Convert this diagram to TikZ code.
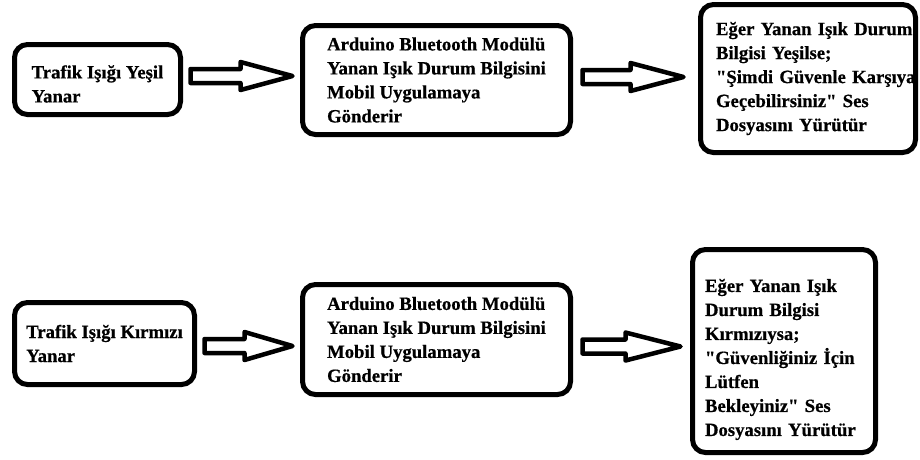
\documentclass[tikz,border=0pt]{standalone}
\usepackage{fontspec}
\setmainfont[Ligatures=TeXOff, BoldFeatures={FakeBold=0.6}]{Liberation Serif}
\usetikzlibrary{calc}
\tikzset{
  flowbox/.style={draw=black, line width=5pt, rounded corners=13pt, inner sep=0pt,
    align=left, font=\bfseries\fontsize{18.7}{24}\selectfont, text=black},
  barrow/.style={draw=black, fill=white, line width=4.5pt, line join=round}
}
\newcommand{\blockarr}[6]{%
  \path ($(#1.east)+(#3,#6)$) coordinate (s) ($(#2.west)+(-#4,0)$) coordinate (t0);
  \path (t0 |- s) coordinate (t);
  \draw[barrow] ($(s)+(0,-7)$) -- ($(t)+(-#5,-7)$) -- ($(t)+(-#5,-14)$) -- (t)
    -- ($(t)+(-#5,14)$) -- ($(t)+(-#5,7)$) -- ($(s)+(0,7)$) -- cycle;}
\begin{document}
\begin{tikzpicture}[x=1pt,y=-1pt]
\useasboundingbox[fill=white] (0,0) rectangle (920,459);
% top row
\node[flowbox, minimum width=166pt, minimum height=70pt] (a1) at (97.5,79.5)
  {\rule{0pt}{22pt}Trafik Işığı Yeşil\\Yanar};
\node[flowbox, minimum width=268pt, minimum height=109pt] (b1) at (436.5,80)
  {Arduino Bluetooth Modülü\\Yanan Işık Durum Bilgisini\\Mobil Uygulamaya\\Gönderir};
\node[flowbox, minimum width=215pt, minimum height=148pt, text width=184pt] (c1) at (808,78.5)
  {\mbox{Eğer Yanan Işık Durum}\\\mbox{Bilgisi Yeşilse;}\\\mbox{"Şimdi Güvenle Karşıya}\\\mbox{Geçebilirsiniz" Ses}\\\mbox{Dosyasını Yürütür}};
% bottom row
\node[flowbox, minimum width=180pt, minimum height=82pt] (a2) at (104.5,343.5)
  {Trafik Işığı Kırmızı\\Yanar};
\node[flowbox, minimum width=268pt, minimum height=110pt] (b2) at (436.5,339.5)
  {Arduino Bluetooth Modülü\\Yanan Işık Durum Bilgisini\\Mobil Uygulamaya\\Gönderir};
\node[flowbox, minimum width=183pt, minimum height=203pt, text width=158pt] (c2) at (784,351)
  {\rule{0pt}{30pt}\mbox{Eğer Yanan Işık}\\\mbox{Durum Bilgisi}\\\mbox{Kırmızıysa;}\\\mbox{"Güvenliğiniz İçin}\\\mbox{Lütfen}\\\mbox{Bekleyiniz" Ses}\\\mbox{Dosyasını Yürütür}};
% arrows
\blockarr{a1}{b1}{7.5}{7.5}{52}{-3.5}
\blockarr{b1}{c1}{9.5}{14.5}{53}{-3}
\blockarr{a2}{b2}{7.5}{7.5}{48}{2.5}
\blockarr{b2}{c2}{9.5}{9.5}{55}{7}
\end{tikzpicture}
\end{document}
